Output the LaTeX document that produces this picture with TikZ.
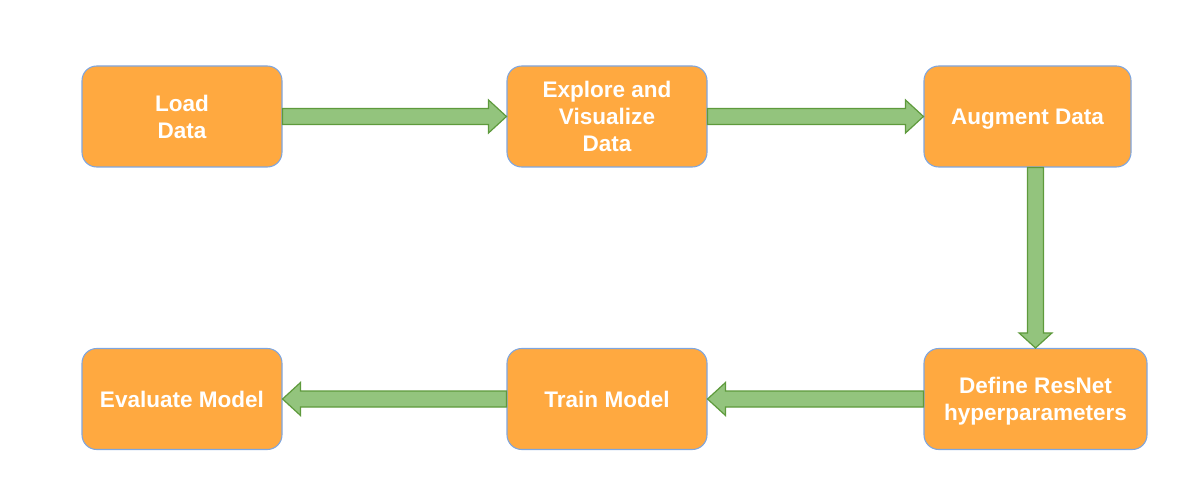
\documentclass[tikz,border=0pt]{standalone}
\usepackage{fontspec}
\setmainfont{Liberation Sans}
\usetikzlibrary{calc}
\definecolor{boxfill}{HTML}{FFA940}
\definecolor{boxline}{HTML}{7EA6E0}
\definecolor{arrfill}{HTML}{93C47D}
\definecolor{arrline}{HTML}{5E9A3C}
\newcommand\nodepth[1]{\raisebox{0pt}[\height][0pt]{#1}}
\tikzset{
  stepbox/.style={draw=boxline, line width=0.8pt, fill=boxfill, rounded corners=11pt,
    text=white, font=\fontsize{16.9}{20.3}\selectfont\bfseries, align=center,
    minimum width=150pt, minimum height=75.75pt, inner sep=2pt},
  barrow/.style={draw=arrline, fill=arrfill, line width=0.9pt, line join=miter}
}
\begin{document}
\begin{tikzpicture}[x=0.75pt,y=-0.75pt]
\useasboundingbox (0,0) rectangle (1198,491);
\node[stepbox] (a) at (182,116.5) {Load\\Data};
\node[stepbox] (b) at (607,116.5) {Explore and\\Visualize\\Data};
\node[stepbox, minimum width=155.25pt] (c) at (1027.5,116.5) {\nodepth{Augment Data}};
\node[stepbox, minimum width=167.25pt] (d) at (1035.5,399) {Define ResNet\\\nodepth{hyperparameters}};
\node[stepbox] (e) at (607,399) {Train Model};
\node[stepbox] (f) at (182,399) {Evaluate Model};
% a -> b
\draw[barrow] ($(a.east)+(0,6pt)$) -- ($(b.west)+(-13.5pt,6pt)$) -- ($(b.west)+(-13.5pt,12.4pt)$) -- (b.west)
  -- ($(b.west)+(-13.5pt,-12.4pt)$) -- ($(b.west)+(-13.5pt,-6pt)$) -- ($(a.east)+(0,-6pt)$) -- cycle;
% b -> c
\draw[barrow] ($(b.east)+(0,6pt)$) -- ($(c.west)+(-13.5pt,6pt)$) -- ($(c.west)+(-13.5pt,12.4pt)$) -- (c.west)
  -- ($(c.west)+(-13.5pt,-12.4pt)$) -- ($(c.west)+(-13.5pt,-6pt)$) -- ($(b.east)+(0,-6pt)$) -- cycle;
% c -> d
\coordinate (cs) at (c.south -| d.north);
\draw[barrow] ($(cs)+(-6pt,0)$) -- ($(d.north)+(-6pt,11.3pt)$) -- ($(d.north)+(-12.4pt,11.3pt)$) -- (d.north)
  -- ($(d.north)+(12.4pt,11.3pt)$) -- ($(d.north)+(6pt,11.3pt)$) -- ($(cs)+(6pt,0)$) -- cycle;
% d -> e
\draw[barrow] ($(d.west)+(0,6pt)$) -- ($(e.east)+(13.5pt,6pt)$) -- ($(e.east)+(13.5pt,12.4pt)$) -- (e.east)
  -- ($(e.east)+(13.5pt,-12.4pt)$) -- ($(e.east)+(13.5pt,-6pt)$) -- ($(d.west)+(0,-6pt)$) -- cycle;
% e -> f
\draw[barrow] ($(e.west)+(0,6pt)$) -- ($(f.east)+(13.5pt,6pt)$) -- ($(f.east)+(13.5pt,12.4pt)$) -- (f.east)
  -- ($(f.east)+(13.5pt,-12.4pt)$) -- ($(f.east)+(13.5pt,-6pt)$) -- ($(e.west)+(0,-6pt)$) -- cycle;
\end{tikzpicture}
\end{document}
